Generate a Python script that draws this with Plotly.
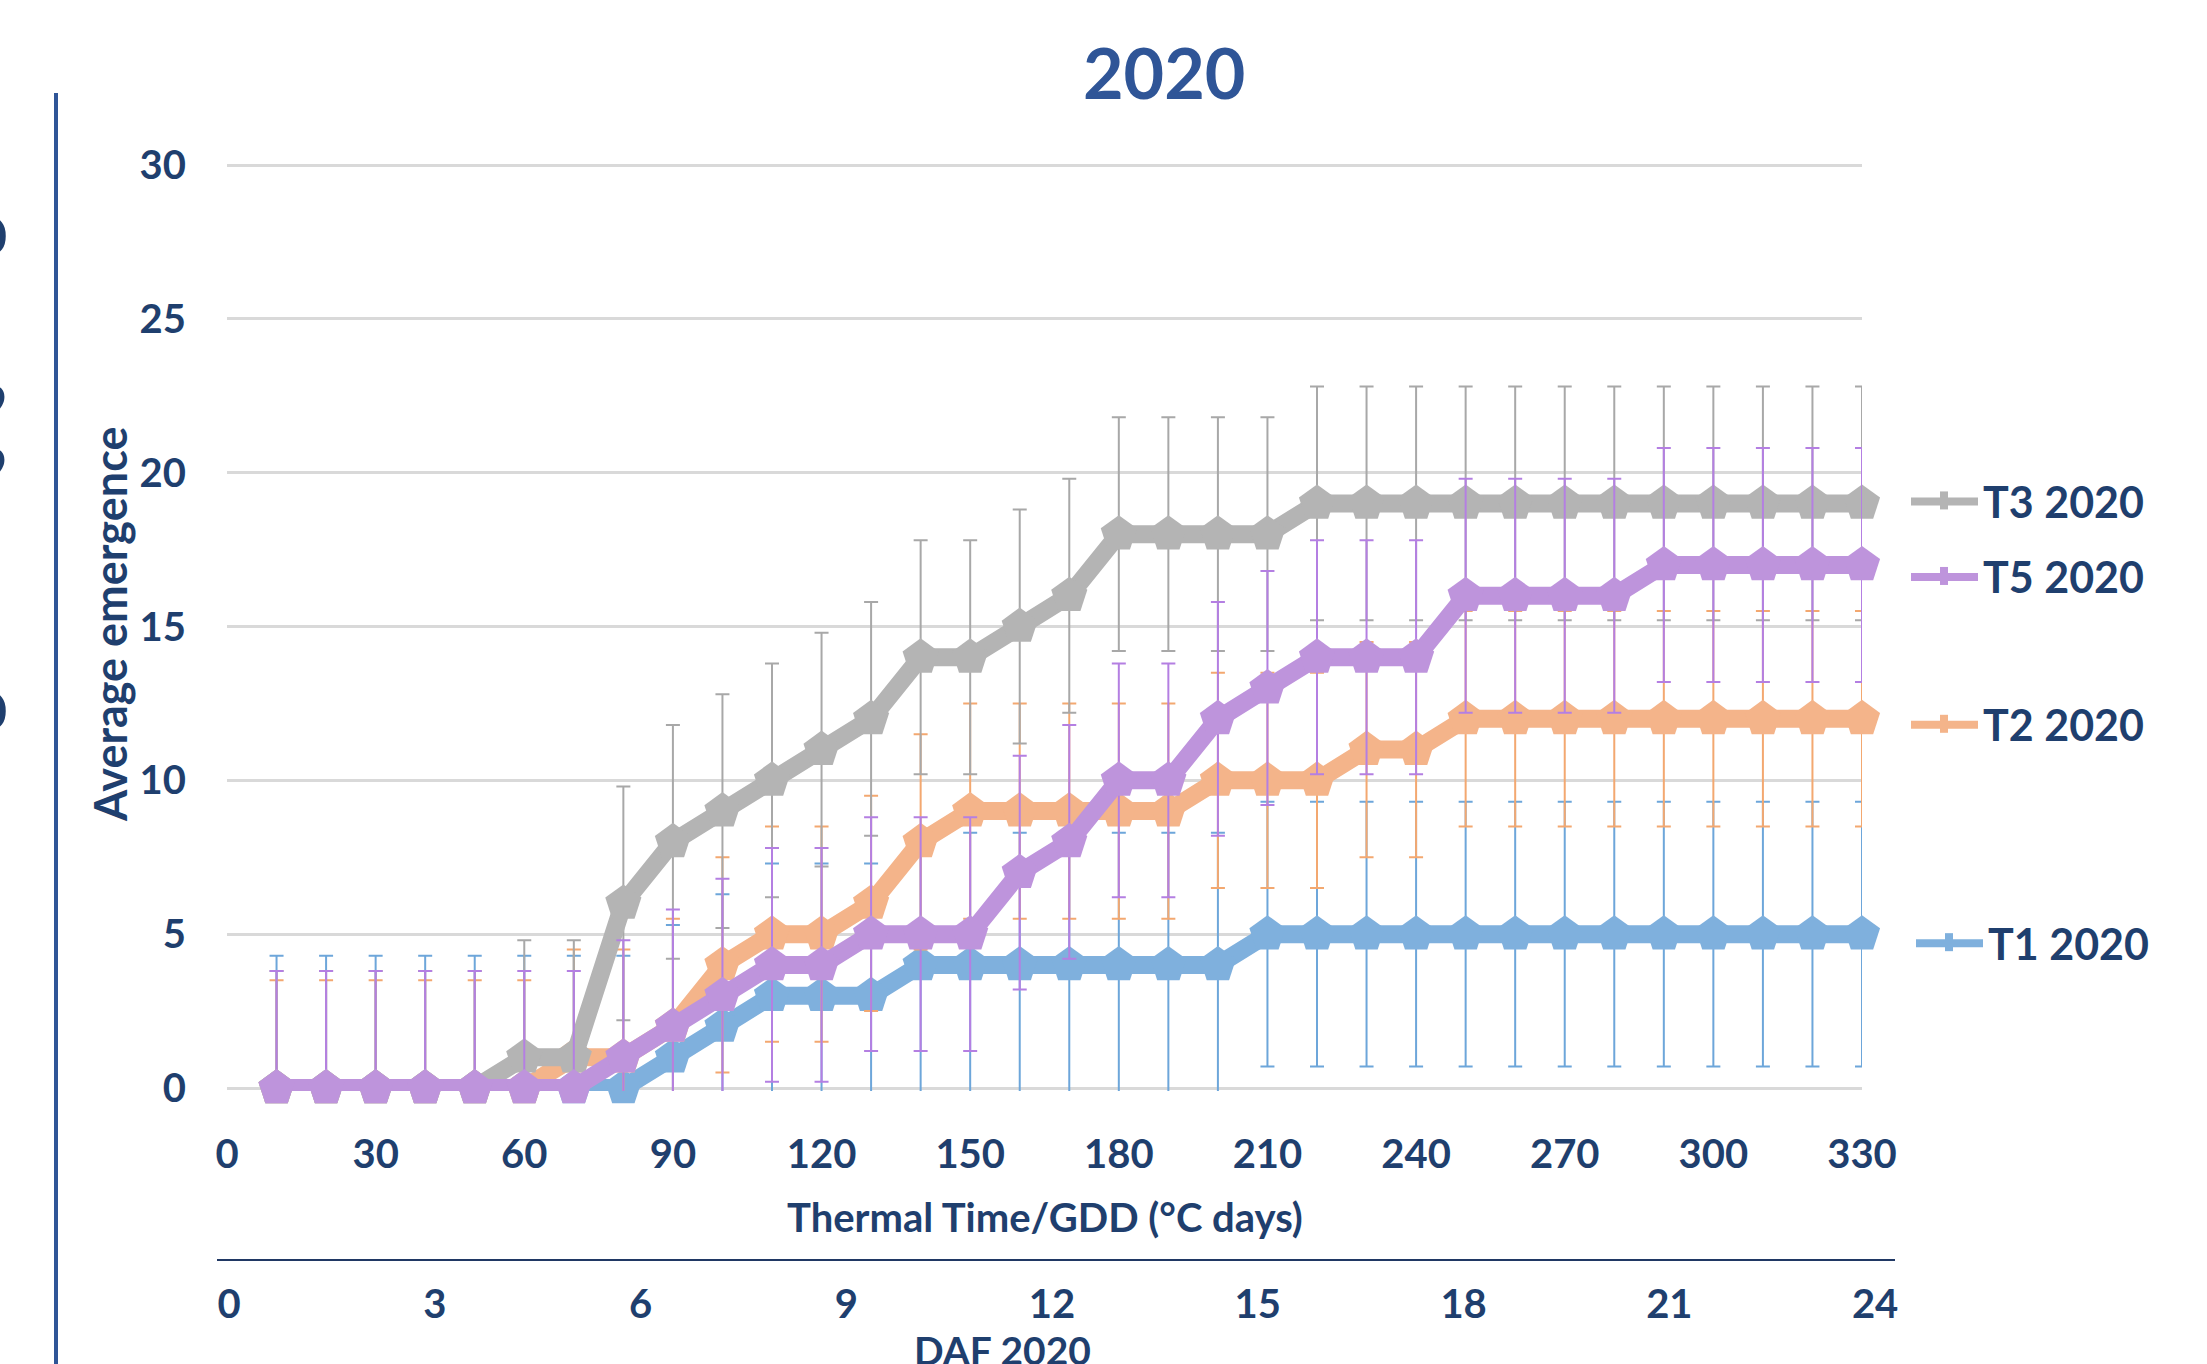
import plotly.graph_objects as go

# ---- data -------------------------------------------------------------
thermal_time = [10, 20, 30, 40, 50, 60, 70, 80, 90, 100, 110, 120, 130, 140, 150, 160,
                170, 180, 190, 200, 210, 220, 230, 240, 250, 260, 270, 280, 290, 300,
                310, 320, 330]

t1_2020 = [0, 0, 0, 0, 0, 0, 0, 0, 1, 2, 3, 3, 3, 4, 4, 4, 4, 4, 4, 4,
           5, 5, 5, 5, 5, 5, 5, 5, 5, 5, 5, 5, 5]
t2_2020 = [0, 0, 0, 0, 0, 0, 1, 1, 2, 4, 5, 5, 6, 8, 9, 9, 9, 9, 9, 10,
           10, 10, 11, 11, 12, 12, 12, 12, 12, 12, 12, 12, 12]
t3_2020 = [0, 0, 0, 0, 0, 1, 1, 6, 8, 9, 10, 11, 12, 14, 14, 15, 16, 18, 18, 18,
           18, 19, 19, 19, 19, 19, 19, 19, 19, 19, 19, 19, 19]
t5_2020 = [0, 0, 0, 0, 0, 0, 0, 1, 2, 3, 4, 4, 5, 5, 5, 7, 8, 10, 10, 12,
           13, 14, 14, 14, 16, 16, 16, 16, 17, 17, 17, 17, 17]

# standard deviation of each treatment (error bar half-length)
sd_t1, sd_t2, sd_t3, sd_t5 = 4.3, 3.5, 3.8, 3.8

series_names = ["T1 2020", "T2 2020", "T3 2020", "T5 2020"]

daf_ticks = [0, 3, 6, 9, 12, 15, 18, 21, 24]
gdd_ticks = [0, 30, 60, 90, 120, 150, 180, 210, 240, 270, 300, 330]
y_ticks = [0, 5, 10, 15, 20, 25, 30]

# ---- styling ------------------------------------------------------------
W, H = 2207, 1364
FONT = "Lato"
NAVY = "#1F3F6E"
TITLE_BLUE = "#2F5597"

styles = {
    "T1 2020": dict(line="#7FB0DD", err="#6DA6DA", label_shift=-9),
    "T2 2020": dict(line="#F4B48A", err="#F3A870", label_shift=-6),
    "T3 2020": dict(line="#B4B4B4", err="#A8A8A8", label_shift=2),
    "T5 2020": dict(line="#BE94DC", err="#B47FE2", label_shift=-12),
}
values = {"T1 2020": t1_2020, "T2 2020": t2_2020, "T3 2020": t3_2020, "T5 2020": t5_2020}
sds = {"T1 2020": sd_t1, "T2 2020": sd_t2, "T3 2020": sd_t3, "T5 2020": sd_t5}


def px_x(p):
    return p / W


def px_y(p):
    return 1 - p / H


fig = go.Figure()

for name in series_names:
    st = styles[name]
    # error bars (clipped to the plot area)
    fig.add_trace(go.Scatter(
        x=thermal_time, y=values[name], mode="markers",
        marker=dict(size=1, opacity=0),
        error_y=dict(type="constant", value=sds[name], color=st["err"],
                     thickness=2, width=7),
        showlegend=False, hoverinfo="skip", cliponaxis=True,
    ))
    # thick line with markers
    fig.add_trace(go.Scatter(
        x=thermal_time, y=values[name], mode="lines+markers", name=name,
        line=dict(color=st["line"], width=18),
        marker=dict(symbol="pentagon", size=38, color=st["line"], line=dict(width=0)),
        showlegend=False, cliponaxis=False,
    ))

# invisible trace that carries the DAF axis
fig.add_trace(go.Scatter(x=[0], y=[-10], xaxis="x2", yaxis="y2", mode="markers",
                         marker=dict(opacity=0), showlegend=False, hoverinfo="skip"))

tickfont = dict(family=FONT, size=40, color=NAVY, weight="bold")

# plot area: value 0 sits at 1088 px, value 30 at 165 px; a little padding
# keeps the 0 and 30 gridlines from being dropped at the range ends
Y_PAD = 0.1
PX_PER_UNIT = (1088 - 165) / 30
y_bottom = 1088 + Y_PAD * PX_PER_UNIT
y_top = 165 - Y_PAD * PX_PER_UNIT

fig.update_layout(
    width=W, height=H,
    margin=dict(l=0, r=0, t=0, b=0, autoexpand=False),
    paper_bgcolor="white", plot_bgcolor="rgba(0,0,0,0)",
    showlegend=False,
    xaxis=dict(domain=[px_x(227), px_x(1862)], range=[0, 330], automargin=False,
               tickvals=gdd_ticks, showgrid=False, zeroline=False, showline=False,
               ticks="outside", ticklen=28, tickcolor="rgba(0,0,0,0)",
               tickfont=tickfont, anchor="y"),
    yaxis=dict(domain=[px_y(y_bottom), px_y(y_top)], range=[-Y_PAD, 30 + Y_PAD],
               automargin=False, tickvals=y_ticks,
               showgrid=True, gridcolor="#D9D9D9", gridwidth=3,
               zeroline=False, showline=False,
               ticks="outside", ticklen=32, tickcolor="rgba(0,0,0,0)",
               tickfont=tickfont, anchor="x"),
    xaxis2=dict(domain=[px_x(217), px_x(1895)], range=[-0.175, 24.29], automargin=False,
                tickvals=daf_ticks, showgrid=False, zeroline=False,
                showline=True, linecolor="#203864", linewidth=2,
                anchor="free", position=px_y(1260),
                ticks="outside", ticklen=9, tickcolor="rgba(0,0,0,0)",
                tickfont=tickfont),
    yaxis2=dict(domain=[px_y(y_bottom), px_y(y_top)], range=[0, 30], visible=False,
                showgrid=False, zeroline=False, automargin=False, anchor="x2"),
)

annotations = [
    dict(text="<b>2020</b>", x=px_x(1164), y=px_y(72), xref="paper", yref="paper",
         showarrow=False, font=dict(family=FONT, size=70, color=TITLE_BLUE),
         xanchor="center", yanchor="middle"),
    dict(text="<b>Average emergence</b>", x=px_x(110), y=px_y(625), xref="paper",
         yref="paper", showarrow=False, textangle=-90,
         font=dict(family=FONT, size=45, color=NAVY), xanchor="center", yanchor="middle"),
    dict(text="<b>Thermal Time/GDD (°C days)</b>", x=px_x(1045), y=px_y(1217),
         xref="paper", yref="paper", showarrow=False,
         font=dict(family=FONT, size=40, color=NAVY), xanchor="center", yanchor="middle"),
    dict(text="<b>DAF 2020</b>", x=px_x(1002), y=px_y(1350), xref="paper", yref="paper",
         showarrow=False, font=dict(family=FONT, size=39, color=NAVY),
         xanchor="center", yanchor="middle"),
]

# glyphs of the neighbouring panel peeking in at the left edge
for glyph, gy in [("0", 235), ("9", 402), ("9", 465), ("0", 710)]:
    annotations.append(dict(text="<b>" + glyph + "</b>", x=px_x(9), y=px_y(gy),
                            xref="paper", yref="paper", showarrow=False,
                            xanchor="right", yanchor="middle",
                            font=dict(family=FONT, size=50, color=NAVY)))

shapes = [
    dict(type="line", xref="paper", yref="paper", x0=px_x(56), x1=px_x(56),
         y0=0, y1=px_y(93), line=dict(color=TITLE_BLUE, width=4)),
]

# series labels with a legend key, placed at each series' final value
for name in series_names:
    st = styles[name]
    last = values[name][-1]
    key_left = 1911 if name != "T1 2020" else 1916
    text_left = key_left + 70
    annotations.append(dict(text="<b>" + name + "</b>", x=px_x(text_left), y=last,
                            xref="paper", yref="y", yshift=st["label_shift"],
                            showarrow=False, xanchor="left", yanchor="middle",
                            font=dict(family=FONT, size=43, color=NAVY)))
    shapes.append(dict(type="line", xref="paper", yref="y",
                       xsizemode="pixel", xanchor=px_x(key_left), x0=0, x1=67,
                       ysizemode="pixel", yanchor=last,
                       y0=st["label_shift"], y1=st["label_shift"],
                       line=dict(color=st["line"], width=8)))
    shapes.append(dict(type="rect", xref="paper", yref="y",
                       xsizemode="pixel", xanchor=px_x(key_left + 33), x0=-4, x1=4,
                       ysizemode="pixel", yanchor=last,
                       y0=st["label_shift"] - 8, y1=st["label_shift"] + 10,
                       line=dict(width=0), fillcolor=st["line"]))

fig.update_layout(annotations=annotations, shapes=shapes)

fig.write_html("out.html")
